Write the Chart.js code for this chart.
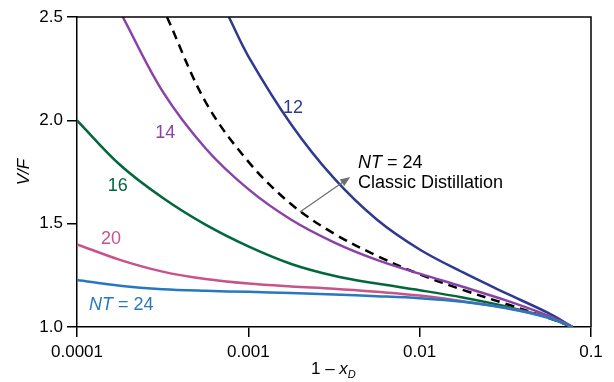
<!DOCTYPE html>
<html>
<head>
<meta charset="utf-8">
<script src="https://cdn.jsdelivr.net/npm/chart.js@4.4.1/dist/chart.umd.min.js"></script>
<style>
  html, body { margin: 0; padding: 0; background: #fff; }
  #wrap { width: 614px; height: 382px; }
</style>
</head>
<body>
<div id="wrap"><canvas id="chart"></canvas></div>
<script>
// 1 - xD values (log axis)
const xTicks = [0.0001, 0.001, 0.01, 0.1];
const xTickLabels = ['0.0001', '0.001', '0.01', '0.1'];
const yTicks = [1.0, 1.5, 2.0, 2.5];

const xs = [0.0001, 0.000178, 0.000316, 0.000562, 0.001, 0.00178, 0.00316, 0.00562, 0.01, 0.0178, 0.0316, 0.0562, 0.078];

const nt24 = [1.228, 1.20, 1.183, 1.175, 1.17, 1.164, 1.157, 1.149, 1.139, 1.122, 1.092, 1.045, 1.0];
const nt20 = [1.40, 1.325, 1.268, 1.232, 1.21, 1.196, 1.185, 1.17, 1.152, 1.125, 1.093, 1.047, 1.0];
const nt16 = [2.00, 1.785, 1.625, 1.495, 1.39, 1.305, 1.248, 1.21, 1.178, 1.143, 1.10, 1.047, 1.0];

const nt14X = [0.000185, 0.000316, 0.000562, 0.001, 0.00178, 0.00316, 0.00562, 0.01, 0.0178, 0.0316, 0.0562, 0.078];
const nt14 = [2.5, 2.14, 1.865, 1.667, 1.519, 1.41, 1.325, 1.258, 1.195, 1.13, 1.055, 1.0];

const classicX = [0.000335, 0.000562, 0.001, 0.00178, 0.00316, 0.00562, 0.01, 0.0178, 0.0316, 0.0562, 0.078];
const classic = [2.5, 2.09, 1.80, 1.594, 1.452, 1.345, 1.255, 1.18, 1.113, 1.045, 1.0];

const nt12X = [0.00077, 0.001, 0.00178, 0.00316, 0.00562, 0.01, 0.0178, 0.0316, 0.0562, 0.078];
const nt12 = [2.5, 2.31, 1.98, 1.72, 1.52, 1.375, 1.265, 1.165, 1.068, 1.0];

const colors = {
  nt12: '#2e3a8f',
  nt14: '#8b42a8',
  nt16: '#00683b',
  nt20: '#c9528a',
  nt24: '#2878c0'
};

function pts(xv, yv) { return xv.map((x, i) => ({ x: x, y: yv[i] })); }

// text labels placed in data coordinates
const labels = [
  { x: 0.00182, y: 2.06, text: '12', color: colors.nt12 },
  { x: 0.000327, y: 1.939, text: '14', color: colors.nt14 },
  { x: 0.000173, y: 1.682, text: '16', color: colors.nt16 },
  { x: 0.000158, y: 1.426, text: '20', color: colors.nt20 }
];

const FONT = '"Liberation Sans", Arial, Helvetica, sans-serif';
const FS = 17;   // tick labels
const LS = 18;   // curve labels / notes

const decor = {
  id: 'decor',
  afterDatasetsDraw(chart) {
    const { ctx, chartArea: a, scales } = chart;
    const sx = scales.x, sy = scales.y;
    ctx.save();
    // top and right frame
    ctx.strokeStyle = '#000';
    ctx.lineWidth = 1.5;
    ctx.beginPath();
    ctx.moveTo(a.left, a.top);
    ctx.lineTo(a.right, a.top);
    ctx.lineTo(a.right, a.bottom);
    ctx.stroke();

    ctx.font = LS + 'px ' + FONT;
    ctx.textAlign = 'center';
    ctx.textBaseline = 'middle';
    labels.forEach(l => {
      ctx.fillStyle = l.color;
      ctx.fillText(l.text, sx.getPixelForValue(l.x), sy.getPixelForValue(l.y));
    });

    // "NT = 24" with italic NT
    function ntLabel(x0, y0, color, align) {
      ctx.fillStyle = color;
      ctx.textAlign = 'left';
      ctx.font = 'italic ' + LS + 'px ' + FONT;
      const w1 = ctx.measureText('NT').width;
      ctx.font = LS + 'px ' + FONT;
      const w2 = ctx.measureText(' = 24').width;
      const start = align === 'center' ? x0 - (w1 + w2) / 2 : x0;
      ctx.font = 'italic ' + LS + 'px ' + FONT;
      ctx.fillText('NT', start, y0);
      ctx.font = LS + 'px ' + FONT;
      ctx.fillText(' = 24', start + w1, y0);
    }
    ntLabel(sx.getPixelForValue(0.000181), sy.getPixelForValue(1.106), colors.nt24, 'center');

    const ax = sx.getPixelForValue(0.00436);
    ntLabel(ax, sy.getPixelForValue(1.793), '#000', 'left');
    ctx.fillStyle = '#000';
    ctx.font = LS + 'px ' + FONT;
    ctx.fillText('Classic Distillation', ax, sy.getPixelForValue(1.697));

    // arrow
    const x1 = sx.getPixelForValue(0.002), y1 = sy.getPixelForValue(1.556);
    const x2 = sx.getPixelForValue(0.00393), y2 = sy.getPixelForValue(1.726);
    const ang = Math.atan2(y2 - y1, x2 - x1);
    ctx.strokeStyle = '#6d6d6d';
    ctx.fillStyle = '#6d6d6d';
    ctx.lineWidth = 1.2;
    ctx.beginPath();
    ctx.moveTo(x1, y1);
    ctx.lineTo(x2 - 6 * Math.cos(ang), y2 - 6 * Math.sin(ang));
    ctx.stroke();
    ctx.beginPath();
    ctx.moveTo(x2, y2);
    ctx.lineTo(x2 - 10 * Math.cos(ang) + 4 * Math.sin(ang), y2 - 10 * Math.sin(ang) - 4 * Math.cos(ang));
    ctx.lineTo(x2 - 10 * Math.cos(ang) - 4 * Math.sin(ang), y2 - 10 * Math.sin(ang) + 4 * Math.cos(ang));
    ctx.closePath();
    ctx.fill();

    // axis titles
    ctx.fillStyle = '#000';
    ctx.textBaseline = 'alphabetic';
    ctx.textAlign = 'left';
    ctx.font = FS + 'px ' + FONT;
    const tx = 311, ty = 374;
    ctx.fillText('1 \u2013 ', tx, ty);
    let w = ctx.measureText('1 \u2013 ').width;
    ctx.font = 'italic ' + FS + 'px ' + FONT;
    ctx.fillText('x', tx + w, ty);
    w += ctx.measureText('x').width;
    ctx.font = 'italic 11px ' + FONT;
    ctx.fillText('D', tx + w, ty + 4);

    ctx.translate(29, (a.top + a.bottom) / 2);
    ctx.rotate(-Math.PI / 2);
    ctx.textAlign = 'center';
    ctx.font = 'italic ' + FS + 'px ' + FONT;
    ctx.fillText('V/F', 0, 0);
    ctx.restore();
  }
};

const lineStyle = { borderWidth: 2.5, pointRadius: 0, tension: 0.35, fill: false };

new Chart(document.getElementById('chart'), {
  type: 'line',
  data: {
    datasets: [
      Object.assign({ label: 'NT = 24', data: pts(xs, nt24), borderColor: colors.nt24 }, lineStyle),
      Object.assign({ label: '20', data: pts(xs, nt20), borderColor: colors.nt20 }, lineStyle),
      Object.assign({ label: '16', data: pts(xs, nt16), borderColor: colors.nt16 }, lineStyle),
      Object.assign({ label: '14', data: pts(nt14X, nt14), borderColor: colors.nt14 }, lineStyle),
      Object.assign({ label: '12', data: pts(nt12X, nt12), borderColor: colors.nt12 }, lineStyle),
      Object.assign({ label: 'Classic', data: pts(classicX, classic), borderColor: '#000', borderDash: [9, 6] }, lineStyle)
    ]
  },
  options: {
    responsive: true,
    maintainAspectRatio: false,
    animation: false,
    layout: { padding: { top: 17, right: 23, left: 0, bottom: 0 } },
    plugins: { legend: { display: false }, tooltip: { enabled: false } },
    scales: {
      x: {
        type: 'logarithmic',
        min: 0.0001,
        max: 0.1,
        afterBuildTicks: s => { s.ticks = xTicks.map(v => ({ value: v })); },
        afterFit: s => { s.height = 55; },
        ticks: {
          color: '#000',
          font: { size: FS, family: FONT },
          padding: 5,
          maxRotation: 0,
          autoSkip: false,
          callback: (v) => { const i = xTicks.indexOf(v); return i >= 0 ? xTickLabels[i] : ''; }
        },
        grid: { drawOnChartArea: false, drawTicks: true, tickLength: 10, color: '#000', lineWidth: 1.5 },
        border: { display: true, color: '#000', width: 1.5 }
      },
      y: {
        min: 1.0,
        max: 2.5,
        afterBuildTicks: s => { s.ticks = yTicks.map(v => ({ value: v })); },
        afterFit: s => { s.width = 77; },
        ticks: {
          color: '#000',
          font: { size: FS, family: FONT },
          padding: 4,
          callback: v => Number(v).toFixed(1)
        },
        grid: { drawOnChartArea: false, drawTicks: true, tickLength: 10, color: '#000', lineWidth: 1.5 },
        border: { display: true, color: '#000', width: 1.5 }
      }
    }
  },
  plugins: [decor]
});
</script>
</body>
</html>
